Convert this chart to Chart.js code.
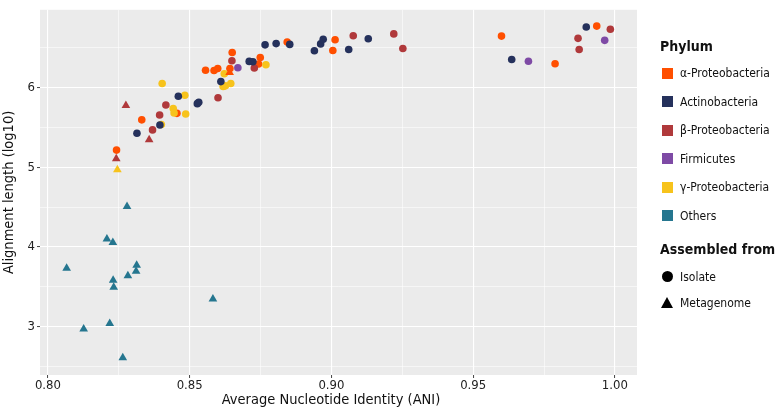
<!DOCTYPE html>
<html>
<head>
<meta charset="utf-8">
<script src="https://cdn.jsdelivr.net/npm/chart.js@4.4.1/dist/chart.umd.min.js"></script>
<style>
  html, body { margin: 0; padding: 0; background: #fff; }
  #wrap { position: relative; width: 778px; height: 410px; }
  canvas { position: absolute; left: 0; top: 0; }
  .lg { position: absolute; font-family: "DejaVu Sans Condensed", "DejaVu Sans", sans-serif; color: #111; white-space: nowrap; }
  .lt { font-weight: bold; font-size: 14px; }
  .li { font-size: 12px; }
  .sw { position: absolute; width: 11px; height: 11px; }
</style>
</head>
<body>
<div id="wrap">
  <canvas id="c" width="778" height="410"></canvas>
  <div id="legend"></div>
</div>
<script>
// ---- data (ANI, log10 alignment length) ----
const alphaIsolate = [[0.8844,6.575],[0.8650,6.444],[0.8749,6.380],[0.8743,6.298],[0.8556,6.220],[0.8586,6.217],[0.8599,6.241],[0.8642,6.241],[0.8455,5.678],[0.8331,5.596],[0.8242,5.216],[0.9013,6.604],[0.9005,6.469],[0.9600,6.649],[0.9789,6.302],[0.9936,6.775]];
const alphaMeta = [[0.8641,6.192]];
const actinoIsolate = [[0.8766,6.539],[0.8805,6.555],[0.8853,6.545],[0.8940,6.465],[0.8962,6.551],[0.8971,6.609],[0.9061,6.481],[0.9130,6.616],[0.8710,6.331],[0.8723,6.327],[0.8610,6.077],[0.8460,5.893],[0.8527,5.800],[0.8532,5.816],[0.8395,5.531],[0.8314,5.428],[0.9636,6.355],[0.9899,6.763]];
const betaIsolate = [[0.8649,6.339],[0.8728,6.249],[0.8600,5.874],[0.8416,5.783],[0.8394,5.657],[0.8369,5.470],[0.9077,6.653],[0.9220,6.677],[0.9252,6.493],[0.9870,6.621],[0.9874,6.481],[0.9984,6.735]];
const betaMeta = [[0.8275,5.776],[0.8357,5.347],[0.8241,5.106]];
const firmIsolate = [[0.8670,6.251],[0.9695,6.334],[0.9964,6.596]];
const gammaIsolate = [[0.8769,6.290],[0.8622,6.175],[0.8618,6.016],[0.8626,6.024],[0.8645,6.053],[0.8403,6.053],[0.8483,5.906],[0.8442,5.739],[0.8445,5.682],[0.8486,5.669],[0.8400,5.538]];
const gammaMeta = [[0.8245,4.968]];
const othersMeta = [[0.8279,4.506],[0.8208,4.098],[0.8229,4.053],[0.8066,3.731],[0.8313,3.768],[0.8311,3.694],[0.8282,3.637],[0.8230,3.579],[0.8232,3.490],[0.8582,3.343],[0.8218,3.037],[0.8126,2.967],[0.8264,2.605]];

const xTicks = [0.80, 0.85, 0.90, 0.95, 1.00];
const xMinorTicks = [0.825, 0.875, 0.925, 0.975];
const yTicks = [3, 4, 5, 6];
const yMinorTicks = [2.5, 3.5, 4.5, 5.5, 6.5];

const phylumNames = ["α-Proteobacteria", "Actinobacteria", "β-Proteobacteria", "Firmicutes", "γ-Proteobacteria", "Others"];
const phylumColors = ["#FF4F00", "#25315C", "#B0393B", "#7E4AA5", "#F7C31C", "#25768F"];
const sourceNames = ["Isolate", "Metagenome"];
const xTitle = 'Average Nucleotide Identity (ANI)';
const yTitle = 'Alignment length (log10)';

// ---- build datasets ----
const toPts = a => a.map(p => ({x: p[0], y: p[1]}));
function ds(arr, ci, tri) {
  const r = tri ? 5 : 3.8;
  return {
    data: toPts(arr),
    pointStyle: tri ? 'triangle' : 'circle',
    pointRadius: r,
    pointHoverRadius: r,
    pointBorderWidth: 0,
    backgroundColor: phylumColors[ci],
    borderColor: phylumColors[ci]
  };
}
const datasets = [
  ds(othersMeta, 5, true),
  ds(betaMeta, 2, true),
  ds(gammaMeta, 4, true),
  ds(alphaMeta, 0, true),
  ds(actinoIsolate, 1, false),
  ds(betaIsolate, 2, false),
  ds(gammaIsolate, 4, false),
  ds(alphaIsolate, 0, false),
  ds(firmIsolate, 3, false)
];

const FAM = '"DejaVu Sans Condensed", "DejaVu Sans", sans-serif';
const panelBg = {
  id: 'panelBg',
  beforeDraw(chart) {
    const {ctx, chartArea: a} = chart;
    ctx.save();
    ctx.fillStyle = '#EBEBEB';
    ctx.fillRect(a.left, a.top, a.right - a.left, a.bottom - a.top);
    ctx.restore();
  },
  afterDraw(chart) {
    const ctx = chart.ctx;
    ctx.save();
    ctx.fillStyle = '#111';
    ctx.font = '14.5px ' + FAM;
    ctx.textAlign = 'center';
    ctx.textBaseline = 'middle';
    ctx.fillText(xTitle, 331, 400);
    ctx.restore();
  }
};

const xMajSet = new Set(xTicks.map(v => v.toFixed(3)));
const yMajSet = new Set(yTicks.map(v => v.toFixed(3)));
const tickFont = {family: FAM, size: 13};
const titleFont = {family: FAM, size: 14.5};

new Chart(document.getElementById('c'), {
  type: 'scatter',
  data: {datasets},
  plugins: [panelBg],
  options: {
    responsive: false,
    animation: false,
    layout: {padding: {left: 0, right: 141, top: 0, bottom: 0}},
    plugins: {legend: {display: false}, tooltip: {enabled: false}},
    scales: {
      x: {
        type: 'linear',
        min: 0.7972, max: 1.0078,
        afterBuildTicks: s => { s.ticks = xTicks.concat(xMinorTicks).sort((a,b)=>a-b).map(v => ({value: v})); },
        afterFit: s => { s.height = 35; },
        border: {display: false},
        grid: {
          color: '#FFFFFF',
          lineWidth: c => (c.tick && xMajSet.has(c.tick.value.toFixed(3))) ? 1.1 : 0.55,
          drawTicks: true,
          tickLength: 3,
          tickColor: c => (c.tick && xMajSet.has(c.tick.value.toFixed(3))) ? '#444' : 'rgba(0,0,0,0)',
          tickWidth: 1
        },
        ticks: {
          autoSkip: false, maxRotation: 0, padding: 0,
          color: '#222', font: tickFont,
          callback: v => xMajSet.has(Number(v).toFixed(3)) ? Number(v).toFixed(2) : ''
        },
        title: {display: false}
      },
      y: {
        type: 'linear',
        min: 2.388, max: 6.98,
        afterBuildTicks: s => { s.ticks = yTicks.concat(yMinorTicks).sort((a,b)=>a-b).map(v => ({value: v})); },
        afterFit: s => { s.width = 40; },
        border: {display: false},
        grid: {
          color: '#FFFFFF',
          lineWidth: c => (c.tick && yMajSet.has(c.tick.value.toFixed(3))) ? 1.1 : 0.55,
          drawTicks: true,
          tickLength: 3,
          tickColor: c => (c.tick && yMajSet.has(c.tick.value.toFixed(3))) ? '#444' : 'rgba(0,0,0,0)',
          tickWidth: 1
        },
        ticks: {
          autoSkip: false, padding: 2,
          color: '#222', font: tickFont,
          callback: v => yMajSet.has(Number(v).toFixed(3)) ? String(Math.round(v)) : ''
        },
        title: {display: true, text: yTitle, color: '#111', font: titleFont, padding: {top: 1, bottom: 0}}
      }
    }
  }
});

// ---- HTML legend ----
const lg = document.getElementById('legend');
function addText(txt, cls, x, yc, h) {
  const d = document.createElement('div');
  d.className = 'lg ' + cls;
  d.textContent = txt;
  d.style.left = x + 'px';
  d.style.top = (yc - h / 2) + 'px';
  d.style.lineHeight = h + 'px';
  lg.appendChild(d);
}
addText('Phylum', 'lt', 660, 46, 16);
const rowY = [73.3, 101.8, 130.3, 158.8, 187.3, 215.8];
phylumNames.forEach((n, i) => {
  const s = document.createElement('div');
  s.className = 'sw';
  s.style.left = '662px';
  s.style.top = (rowY[i] - 5.5) + 'px';
  s.style.background = phylumColors[i];
  lg.appendChild(s);
  addText(n, 'li', 680, rowY[i], 14);
});
addText('Assembled from', 'lt', 660, 248.5, 16);
const srcY = [276.7, 302.5];
{
  const c = document.createElement('div');
  c.style.cssText = 'position:absolute;left:662px;top:' + (srcY[0] - 5.5) + 'px;width:11px;height:11px;border-radius:50%;background:#000;';
  lg.appendChild(c);
  const t = document.createElement('div');
  t.style.cssText = 'position:absolute;left:661px;top:' + (srcY[1] - 6) + 'px;width:0;height:0;border-left:6.5px solid transparent;border-right:6.5px solid transparent;border-bottom:11px solid #000;';
  lg.appendChild(t);
}
sourceNames.forEach((n, i) => addText(n, 'li', 680, srcY[i], 14));
</script>
</body>
</html>
